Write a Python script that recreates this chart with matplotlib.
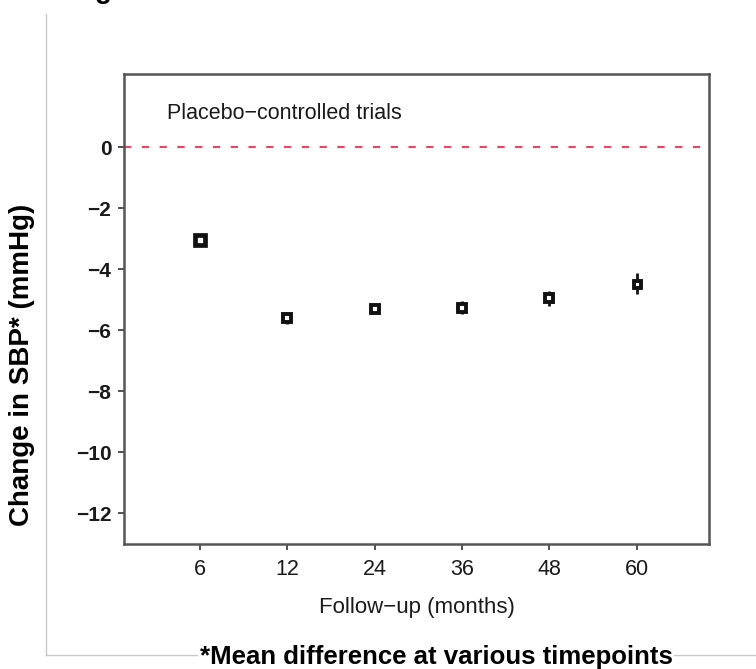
import matplotlib
matplotlib.use("Agg")
import matplotlib.pyplot as plt
from matplotlib.lines import Line2D

# values
months = ["6", "12", "24", "36", "48", "60"]
mean_change = [-3.03, -5.60, -5.31, -5.25, -4.95, -4.47]
ci_half = [0.12, 0.20, 0.16, 0.22, 0.25, 0.35]

# marker size (px) per timepoint, looks like it follows trial weight
marker_px = [10, 8.5, 8, 8, 7.5, 7]

plt.rcParams['font.family'] = ['Liberation Sans', 'DejaVu Sans']

fig = plt.figure(figsize=(7.56, 6.69), dpi=100)
ax = fig.add_axes([0.164, 0.187, 0.774, 0.702])

x = list(range(1, len(months) + 1))
ax.axhline(0, color='#d4506a', linestyle=(0, (3.3, 4.7)), linewidth=1.6, zorder=1)

for xi, m, h, px in zip(x, mean_change, ci_half, marker_px):
    ax.errorbar(xi, m, yerr=h, fmt='s', color='black', ecolor='#111111',
                elinewidth=2, capsize=0, markersize=px * 0.72,
                markerfacecolor='white', markeredgecolor='#111111',
                markeredgewidth=3.4 if px > 9 else 2.8, zorder=3)

ax.set_xlim(0.13, 6.83)
ax.set_ylim(-13.0, 2.4)
ax.set_xticks(x)
ax.set_xticklabels(months)
ax.set_yticks([0, -2, -4, -6, -8, -10, -12])
ax.set_yticklabels(['0', '\u22122', '\u22124', '\u22126', '\u22128', '\u221210', '\u221212'],
                   fontweight='bold')
ax.tick_params(axis='both', direction='out', length=4, width=1.2, colors='#333333',
               labelcolor='#1a1a1a', labelsize=15, pad=5)
ax.tick_params(axis='x', pad=7, labelsize=15.5)

for side in ['left', 'right', 'top', 'bottom']:
    ax.spines[side].set_color('#555555')
    ax.spines[side].set_linewidth(1.8)

ax.set_xlabel('Follow\u2212up (months)', fontsize=16, color='#1a1a1a', labelpad=12)
ax.text(0.0735, 0.917, 'Placebo\u2212controlled trials', transform=ax.transAxes,
        fontsize=15.5, color='#1a1a1a', ha='left', va='center')

# outer frame lines of the slide
fig.add_artist(Line2D([0.0608, 0.0608], [0.0209, 0.979], transform=fig.transFigure,
                      color='#c8c8c8', linewidth=1))
fig.add_artist(Line2D([0.0608, 1.0], [0.0209, 0.0209], transform=fig.transFigure,
                      color='#c8c8c8', linewidth=1))

fig.text(0.029, 0.454, 'Change in SBP* (mmHg)', rotation=90, ha='center', va='center',
         fontsize=20, fontweight='bold', color='black')
fig.text(0.577, 0.008, '*Mean difference at various timepoints', ha='center',
         va='baseline', fontsize=18.5, fontweight='bold', color='black',
         bbox=dict(facecolor='white', edgecolor='none', pad=1))

# bottom of the cut-off slide title
fig.text(0.126, 1.003, 'g', ha='left', va='baseline', fontsize=20,
         fontweight='bold', color='black')

fig.savefig('out.png', dpi=100)
